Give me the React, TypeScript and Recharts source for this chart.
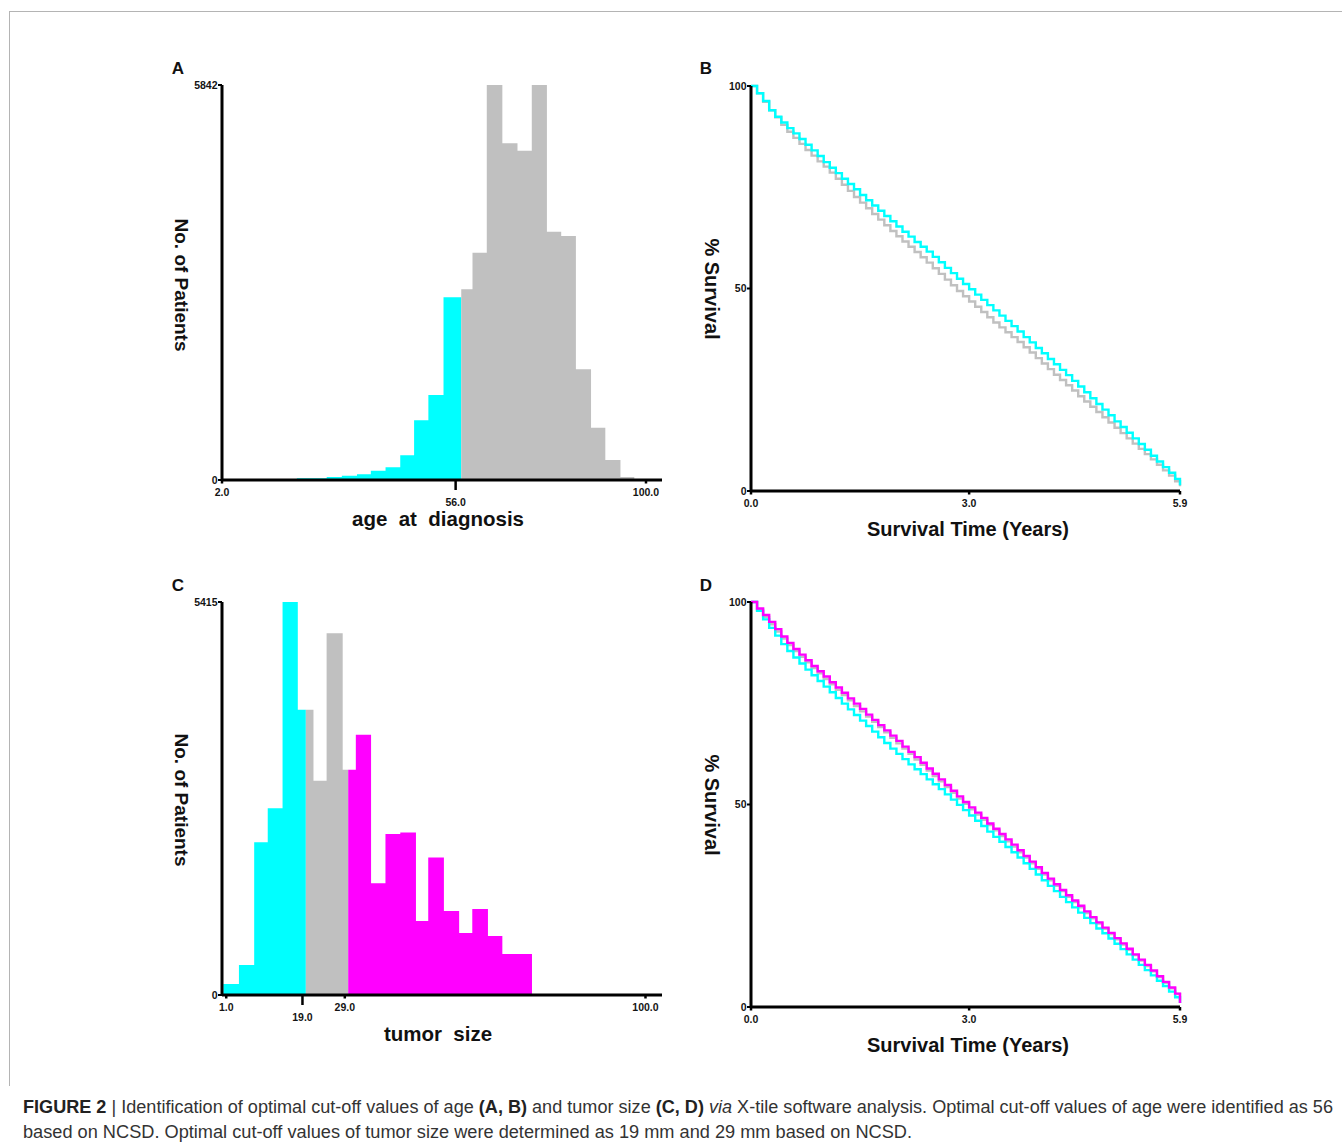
import React from 'react';
import { ComposedChart, Area, Line, XAxis, YAxis } from 'recharts';

// ---------- Panel A : age at diagnosis histogram ----------
const ageEdges = [19.3, 26.2, 29.7, 33.2, 36.4, 39.8, 43.2, 46.4, 49.7, 53.2, 57.3, 59.9, 63.2, 66.8, 70.3, 73.6, 77.1, 80.4, 83.8, 87.3, 90.6, 94.1, 97.3];
const ageCounts = [25, 44, 64, 84, 138, 187, 365, 882, 1257, 2702, 2820, 3362, 5842, 4979, 4871, 5842, 3673, 3609, 1637, 774, 296, 44];
const ageGroups = ['low', 'low', 'low', 'low', 'low', 'low', 'low', 'low', 'low', 'low', 'high', 'high', 'high', 'high', 'high', 'high', 'high', 'high', 'high', 'high', 'high', 'high'];
const ageXTicks = [2, 56, 100];
const ageYTicks = [0, 5842];

// ---------- Panel C : tumor size histogram ----------
const sizeEdges = [0.3, 4.0, 7.6, 10.8, 14.3, 17.9, 19.8, 21.6, 24.7, 28.5, 29.8, 31.6, 35.2, 38.6, 42.1, 45.8, 48.7, 52.4, 56.0, 59.1, 62.8, 66.2, 73.2];
const sizeCounts = [152, 414, 2105, 2574, 5415, 3930, 3930, 2951, 4983, 3103, 3103, 3585, 1540, 2220, 2239, 1020, 1894, 1158, 855, 1186, 814, 565];
const sizeGroups = ['low', 'low', 'low', 'low', 'low', 'low', 'mid', 'mid', 'mid', 'mid', 'high', 'high', 'high', 'high', 'high', 'high', 'high', 'high', 'high', 'high', 'high', 'high'];
const sizeXTicks = [1, 19, 29, 100];
const sizeYTicks = [0, 5415];

// ---------- Panels B & D : survival curves ----------
const survMonths = [0, 1, 2, 3, 4, 5, 6, 7, 8, 9, 10, 11, 12, 13, 14, 15, 16, 17, 18, 19, 20, 21, 22, 23, 24, 25, 26, 27, 28, 29, 30, 31, 32, 33, 34, 35, 36, 37, 38, 39, 40, 41, 42, 43, 44, 45, 46, 47, 48, 49, 50, 51, 52, 53, 54, 55, 56, 57, 58, 59, 60, 61, 62, 63, 64, 65, 66, 67, 68, 69, 70, 70.8];
const survXTicks = [0, 3, 5.9];
const survYTicks = [0, 50, 100];

const bAgeLow = [100, 98.2, 96.3, 94.0, 92.4, 91.0, 89.6, 88.3, 86.9, 85.5, 84.1, 82.7, 81.2, 79.8, 78.5, 77.1, 75.8, 74.5, 73.1, 71.8, 70.5, 69.2, 67.9, 66.6, 65.3, 64.0, 62.8, 61.5, 60.3, 59.1, 57.8, 56.5, 55.1, 53.8, 52.4, 51.1, 49.8, 48.5, 47.2, 45.9, 44.6, 43.3, 42.0, 40.7, 39.4, 38.0, 36.7, 35.3, 34.0, 32.6, 31.3, 29.9, 28.6, 27.2, 25.8, 24.4, 22.9, 21.5, 20.1, 18.7, 17.2, 15.8, 14.4, 13.0, 11.6, 10.2, 8.7, 7.3, 5.9, 4.5, 3.0, 1.4];
const bAgeHigh = [100, 98.2, 96.1, 94.0, 92.3, 90.4, 88.7, 87.2, 85.7, 84.2, 82.8, 81.4, 80.1, 78.6, 77.1, 75.6, 74.1, 72.6, 71.2, 69.8, 68.4, 67.0, 65.6, 64.2, 62.9, 61.6, 60.3, 59.0, 57.7, 56.4, 55.0, 53.6, 52.2, 50.8, 49.4, 48.1, 46.8, 45.5, 44.2, 42.9, 41.6, 40.4, 39.2, 38.0, 36.8, 35.5, 34.2, 32.8, 31.5, 30.1, 28.7, 27.4, 26.1, 24.8, 23.4, 22.1, 20.8, 19.5, 18.2, 16.9, 15.6, 14.3, 13.0, 11.7, 10.4, 9.1, 7.8, 6.5, 5.1, 3.8, 2.4, 1.2];

const dSizeLow = [100, 97.8, 95.7, 93.6, 91.7, 89.6, 87.9, 86.3, 84.8, 83.3, 81.9, 80.5, 79.1, 77.7, 76.3, 74.9, 73.5, 72.1, 70.7, 69.4, 68.0, 66.6, 65.2, 63.8, 62.5, 61.2, 59.9, 58.7, 57.5, 56.2, 55.0, 53.8, 52.5, 51.2, 49.9, 48.6, 47.3, 46.0, 44.7, 43.3, 42.0, 40.8, 39.5, 38.2, 36.9, 35.5, 34.1, 32.7, 31.3, 29.9, 28.6, 27.2, 25.9, 24.6, 23.3, 22.0, 20.7, 19.4, 18.2, 16.9, 15.6, 14.3, 13.0, 11.7, 10.4, 9.1, 7.8, 6.5, 5.2, 3.8, 2.4, 1.0];
const dSizeMid = [100, 98.1, 96.3, 94.5, 92.7, 91.0, 89.4, 87.9, 86.5, 85.1, 83.7, 82.4, 81.0, 79.7, 78.3, 77.0, 75.7, 74.3, 73.0, 71.7, 70.4, 69.1, 67.8, 66.5, 65.1, 63.8, 62.5, 61.1, 59.8, 58.4, 57.0, 55.7, 54.3, 52.9, 51.5, 50.2, 48.8, 47.5, 46.2, 44.9, 43.6, 42.2, 40.9, 39.6, 38.2, 36.9, 35.5, 34.1, 32.7, 31.3, 29.9, 28.6, 27.2, 25.9, 24.6, 23.2, 21.9, 20.6, 19.3, 18.0, 16.7, 15.4, 14.1, 12.8, 11.5, 10.1, 8.8, 7.4, 6.0, 4.6, 3.2, 1.0];
const dSizeHigh = [100, 98.4, 96.8, 95.1, 93.3, 91.5, 89.9, 88.4, 87.0, 85.6, 84.2, 82.9, 81.6, 80.2, 78.9, 77.6, 76.2, 74.9, 73.6, 72.2, 70.9, 69.6, 68.3, 67.0, 65.7, 64.3, 63.0, 61.7, 60.3, 58.9, 57.6, 56.2, 54.8, 53.4, 52.0, 50.6, 49.3, 48.0, 46.7, 45.3, 44.0, 42.7, 41.4, 40.1, 38.7, 37.3, 35.9, 34.5, 33.1, 31.7, 30.3, 28.9, 27.6, 26.3, 25.0, 23.6, 22.2, 20.9, 19.6, 18.3, 17.0, 15.7, 14.4, 13.0, 11.7, 10.4, 9.0, 7.6, 6.2, 4.8, 3.3, 1.0];

const CYAN = '#00FFFF';
const GRAY = '#C0C0C0';
const MAGENTA = '#FF00FF';
const FONT = '"Liberation Sans", Arial, Helvetica, sans-serif';

function buildHistRows(edges: number[], counts: number[], groups: string[]) {
  const rows: any[] = edges.map((x) => ({ x }));
  counts.forEach((c, i) => {
    const k = groups[i];
    rows[i][k] = c;
    if (i + 1 === counts.length || groups[i + 1] !== k) rows[i + 1][k] = c;
  });
  return rows;
}

const ageRows = buildHistRows(ageEdges, ageCounts, ageGroups);
const sizeRows = buildHistRows(sizeEdges, sizeCounts, sizeGroups);
const ageSurvRows = survMonths.map((m, i) => ({ t: m / 12, low: bAgeLow[i], high: bAgeHigh[i] }));
const sizeSurvRows = survMonths.map((m, i) => ({ t: m / 12, low: dSizeLow[i], mid: dSizeMid[i], high: dSizeHigh[i] }));

const XTick = (props: any) => {
  const { x, y, payload, longValue } = props;
  const long = payload.value === longValue;
  const len = long ? 10 : 3.5;
  const base = long ? 26 : 16;
  return (
    <g>
      <line x1={x} y1={y} x2={x} y2={y + len} stroke="#000" strokeWidth={2.5} />
      <text x={x} y={y + base} textAnchor="middle" fontSize={10.5} fontWeight="bold" fill="#141414" fontFamily={FONT}>
        {Number(payload.value).toFixed(1)}
      </text>
    </g>
  );
};

const YTick = (props: any) => {
  const { x, y, payload } = props;
  return (
    <g>
      <line x1={x - 4} y1={y} x2={x} y2={y} stroke="#000" strokeWidth={2} />
      <text x={x - 4.5} y={y} dy={3.8} textAnchor="end" fontSize={10.5} fontWeight="bold" fill="#141414" fontFamily={FONT}>
        {payload.value}
      </text>
    </g>
  );
};

const axisLine = { stroke: '#000', strokeWidth: 3 };

function Histogram({ rows, keys, colors, domain, xTicks, yTicks, longTick, left, top, plotH }: any) {
  return (
    <div style={{ position: 'absolute', left, top }}>
      <ComposedChart width={530} height={15 + plotH + 60} data={rows} margin={{ top: 15, right: 18, bottom: 0, left: 0 }}>
        <XAxis
          dataKey="x"
          type="number"
          domain={domain}
          ticks={xTicks}
          interval={0}
          tickSize={0}
          tickMargin={0}
          tickLine={false}
          axisLine={axisLine}
          height={60}
          tick={(p: any) => <XTick {...p} longValue={longTick} />}
        />
        <YAxis
          type="number"
          domain={[0, yTicks[1]]}
          ticks={yTicks}
          interval={0}
          width={72}
          tickSize={0}
          tickMargin={0}
          tickLine={false}
          axisLine={axisLine}
          tick={(p: any) => <YTick {...p} />}
        />
        {keys.map((k: string, i: number) => (
          <Area
            key={k}
            dataKey={k}
            type="stepAfter"
            stroke="none"
            fill={colors[i]}
            fillOpacity={1}
            isAnimationActive={false}
            connectNulls={false}
            dot={false}
            activeDot={false}
          />
        ))}
      </ComposedChart>
    </div>
  );
}

function Survival({ rows, keys, colors, left, top }: any) {
  return (
    <div style={{ position: 'absolute', left, top }}>
      <ComposedChart width={520} height={15 + 405 + 60} data={rows} margin={{ top: 15, right: 20, bottom: 0, left: 0 }}>
        <XAxis
          dataKey="t"
          type="number"
          domain={[0, 5.9]}
          ticks={survXTicks}
          interval={0}
          tickSize={0}
          tickMargin={0}
          tickLine={false}
          axisLine={axisLine}
          height={60}
          tick={(p: any) => <XTick {...p} longValue={-1} />}
        />
        <YAxis
          type="number"
          domain={[0, 100]}
          ticks={survYTicks}
          interval={0}
          width={71}
          tickSize={0}
          tickMargin={0}
          tickLine={false}
          axisLine={axisLine}
          tick={(p: any) => <YTick {...p} />}
        />
        {keys.map((k: string, i: number) => (
          <Line
            key={k}
            dataKey={k}
            type="stepAfter"
            stroke={colors[i]}
            strokeWidth={2.4}
            dot={false}
            activeDot={false}
            isAnimationActive={false}
          />
        ))}
      </ComposedChart>
    </div>
  );
}

const labelStyle = (x: number, y: number, size: number, rotate = 0): React.CSSProperties => ({
  position: 'absolute',
  left: x,
  top: y,
  transform: `translate(-50%, -50%) rotate(${rotate}deg)`,
  fontFamily: FONT,
  fontWeight: 'bold',
  fontSize: size,
  color: '#111',
  whiteSpace: 'pre',
  lineHeight: 1,
});

export default function App() {
  return (
    <div style={{ position: 'absolute', left: 0, top: 0, width: 1342, height: 1147, background: '#fff', overflow: 'hidden' }}>
      {/* frame */}
      <div style={{ position: 'absolute', left: 9, top: 11, width: 1340, height: 1074, borderTop: '1px solid #b4b4b4', borderLeft: '1px solid #b4b4b4' }} />

      <Histogram rows={ageRows} keys={['low', 'high']} colors={[CYAN, GRAY]} domain={[2, 103.7]} xTicks={ageXTicks} yTicks={ageYTicks} longTick={56} left={150} top={70} plotH={395} />
      <Histogram rows={sizeRows} keys={['low', 'mid', 'high']} colors={[CYAN, GRAY, MAGENTA]} domain={[0, 103.9]} xTicks={sizeXTicks} yTicks={sizeYTicks} longTick={19} left={150} top={587} plotH={393} />
      <Survival rows={ageSurvRows} keys={['high', 'low']} colors={[GRAY, CYAN]} left={680} top={71} />
      <Survival rows={sizeSurvRows} keys={['mid', 'low', 'high']} colors={[GRAY, CYAN, MAGENTA]} left={680} top={587} />

      {/* panel letters */}
      <div style={labelStyle(178, 68, 17)}>A</div>
      <div style={labelStyle(706, 68, 17)}>B</div>
      <div style={labelStyle(178, 585, 17)}>C</div>
      <div style={labelStyle(706, 585, 17)}>D</div>

      {/* axis titles */}
      <div style={labelStyle(181, 285, 19, 90)}>No. of Patients</div>
      <div style={labelStyle(181, 800, 19, 90)}>No. of Patients</div>
      <div style={labelStyle(712, 289, 20, 90)}>% Survival</div>
      <div style={labelStyle(712, 805, 20, 90)}>% Survival</div>
      <div style={labelStyle(438, 519, 20.5)}>{'age  at  diagnosis'}</div>
      <div style={labelStyle(438, 1034, 20.5)}>{'tumor  size'}</div>
      <div style={labelStyle(968, 529, 20)}>Survival Time (Years)</div>
      <div style={labelStyle(968, 1045, 20)}>Survival Time (Years)</div>

      {/* caption */}
      <svg style={{ position: 'absolute', left: 0, top: 1090 }} width={1342} height={57}>
        <text x={23} y={23} fontSize={17.5} fill="#333" fontFamily={FONT} textLength={1310} lengthAdjust="spacingAndGlyphs">
          <tspan fontWeight="bold" fill="#222">FIGURE 2</tspan>
          <tspan> | Identification of optimal cut-off values of age </tspan>
          <tspan fontWeight="bold" fill="#222">(A, B)</tspan>
          <tspan> and tumor size </tspan>
          <tspan fontWeight="bold" fill="#222">(C, D)</tspan>
          <tspan fontStyle="italic"> via</tspan>
          <tspan> X-tile software analysis. Optimal cut-off values of age were identified as 56</tspan>
        </text>
        <text x={23} y={48} fontSize={17.5} fill="#333" fontFamily={FONT} textLength={889} lengthAdjust="spacingAndGlyphs">
          based on NCSD. Optimal cut-off values of tumor size were determined as 19 mm and 29 mm based on NCSD.
        </text>
      </svg>
    </div>
  );
}
